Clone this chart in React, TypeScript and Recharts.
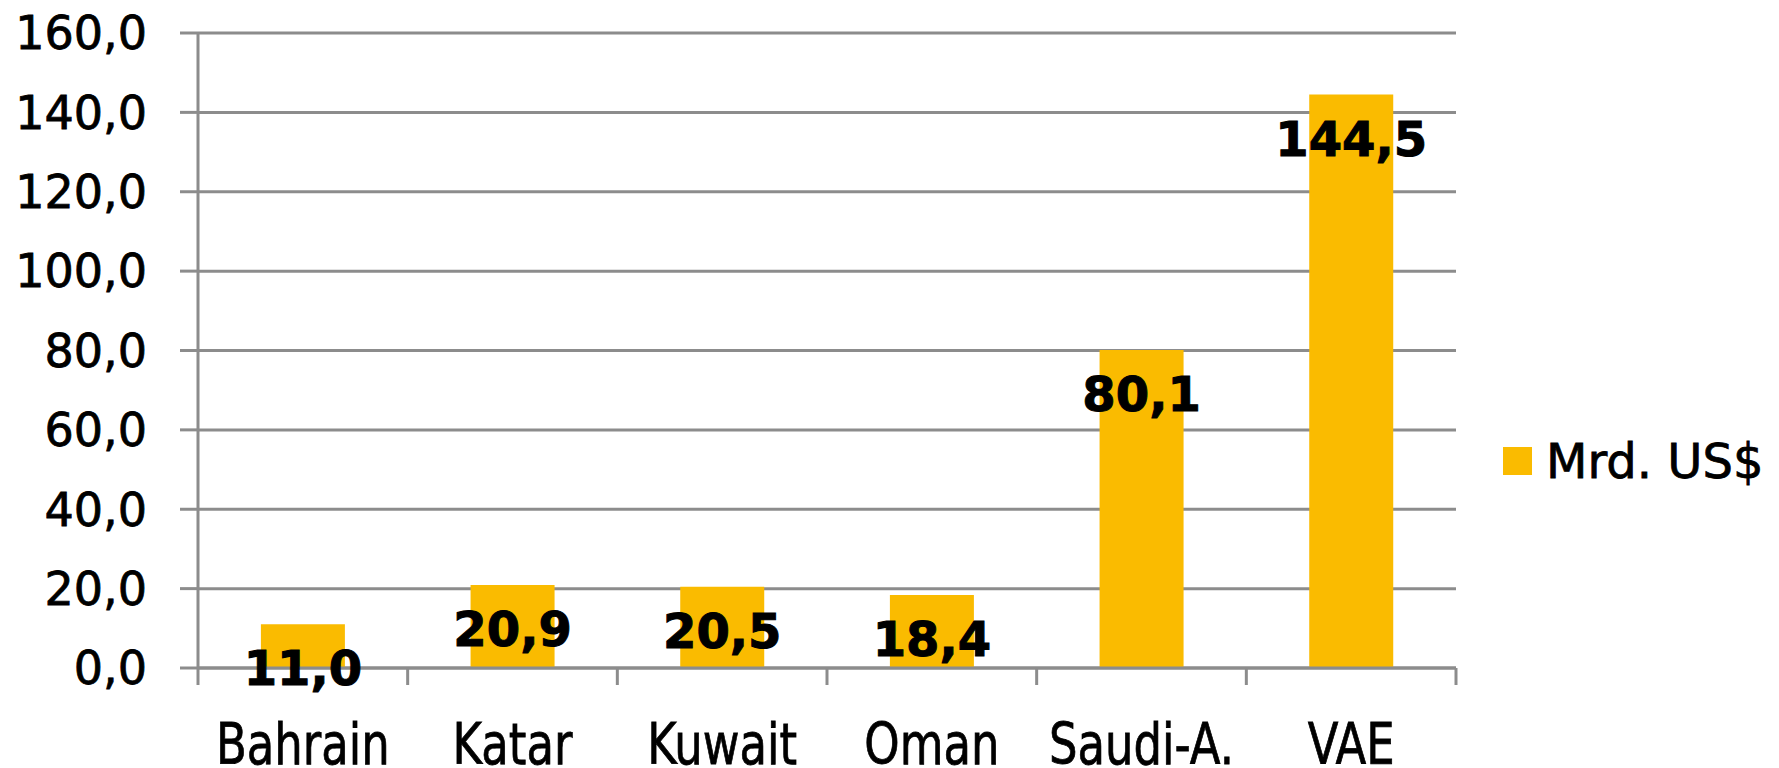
import React from 'react';
import { BarChart, Bar, XAxis, YAxis, CartesianGrid, Legend, LabelList } from 'recharts';

const categories = ['Bahrain', 'Katar', 'Kuwait', 'Oman', 'Saudi-A.', 'VAE'];
const values = [11.0, 20.9, 20.5, 18.4, 80.1, 144.5];
const yTicks = [0, 20, 40, 60, 80, 100, 120, 140, 160];
const seriesName = 'Mrd. US$';

const data = categories.map((c, i) => ({ name: c, value: values[i] }));

const CHART_W = 1779;
const CHART_H = 768;
const MARGIN = { top: 33, right: 323, bottom: 0, left: 0 };
const Y_W = 198;
const X_H = 100;
const PLOT_W = CHART_W - MARGIN.left - MARGIN.right - Y_W;
const GRID = '#8c8c8c';
const BAR = '#FABB00';
const FONT = '"DejaVu Sans", Verdana, sans-serif';

const fmt = (v: number) => v.toFixed(1).replace('.', ',');

const XTick = (props: any) => {
  const { x, y, payload, index, visibleTicksCount } = props;
  const bw = PLOT_W / categories.length;
  const n = visibleTicksCount ?? categories.length;
  return (
    <g>
      <line x1={x - bw / 2} x2={x - bw / 2} y1={y} y2={y + 17} stroke={GRID} strokeWidth={3} />
      {index === n - 1 && (
        <line x1={x + bw / 2} x2={x + bw / 2} y1={y} y2={y + 17} stroke={GRID} strokeWidth={3} />
      )}
      <g transform={`translate(${x},${y + 96})`}>
        <text
          transform="scale(0.78,1)"
          textAnchor="middle"
          fontSize={57.6}
          fontFamily={FONT}
          fill="#000"
          stroke="#000"
          strokeWidth={0.8}
        >
          {payload.value}
        </text>
      </g>
    </g>
  );
};

const ValueLabel = (props: any) => {
  const { x, y, width, value } = props;
  return (
    <text
      x={x + width / 2}
      y={y + 44}
      dy="0.355em"
      textAnchor="middle"
      fontSize={48}
      fontWeight="bold"
      fontFamily={FONT}
      fill="#000"
      stroke="#000"
      strokeWidth={1}
    >
      {fmt(value)}
    </text>
  );
};

const LegendContent = () => (
  <div
    style={{
      display: 'flex',
      alignItems: 'center',
      fontFamily: FONT,
      fontSize: 48,
      lineHeight: 1,
      color: '#000',
      whiteSpace: 'nowrap',
      WebkitTextStroke: '0.8px #000',
    }}
  >
    <div style={{ width: 29, height: 28, background: BAR, marginRight: 14 }} />
    <span>{seriesName}</span>
  </div>
);

export default function App() {
  return (
    <div style={{ position: 'absolute', left: 0, top: 0, width: CHART_W, height: CHART_H, background: '#fff' }}>
      <BarChart width={CHART_W} height={CHART_H} data={data} margin={MARGIN} barCategoryGap="30%">
        <CartesianGrid vertical={false} stroke={GRID} strokeWidth={3} />
        <XAxis
          dataKey="name"
          height={X_H}
          axisLine={{ stroke: GRID, strokeWidth: 3 }}
          tickLine={false}
          tickSize={0}
          tickMargin={0}
          interval={0}
          tick={<XTick />}
        />
        <YAxis
          width={Y_W}
          domain={[0, 160]}
          ticks={yTicks}
          interval={0}
          tickFormatter={fmt}
          axisLine={{ stroke: GRID, strokeWidth: 3 }}
          tickLine={{ stroke: GRID, strokeWidth: 3 }}
          tickSize={18}
          tickMargin={33}
          tick={{ fontSize: 46, fontFamily: FONT, fill: '#000', stroke: '#000', strokeWidth: 0.8 }}
        />
        <Legend
          layout="vertical"
          align="center"
          verticalAlign="middle"
          content={<LegendContent />}
          wrapperStyle={{ left: 1503, top: 437, width: 276, height: 48 }}
        />
        <Bar dataKey="value" name={seriesName} fill={BAR} isAnimationActive={false}>
          <LabelList dataKey="value" content={<ValueLabel />} />
        </Bar>
      </BarChart>
    </div>
  );
}
